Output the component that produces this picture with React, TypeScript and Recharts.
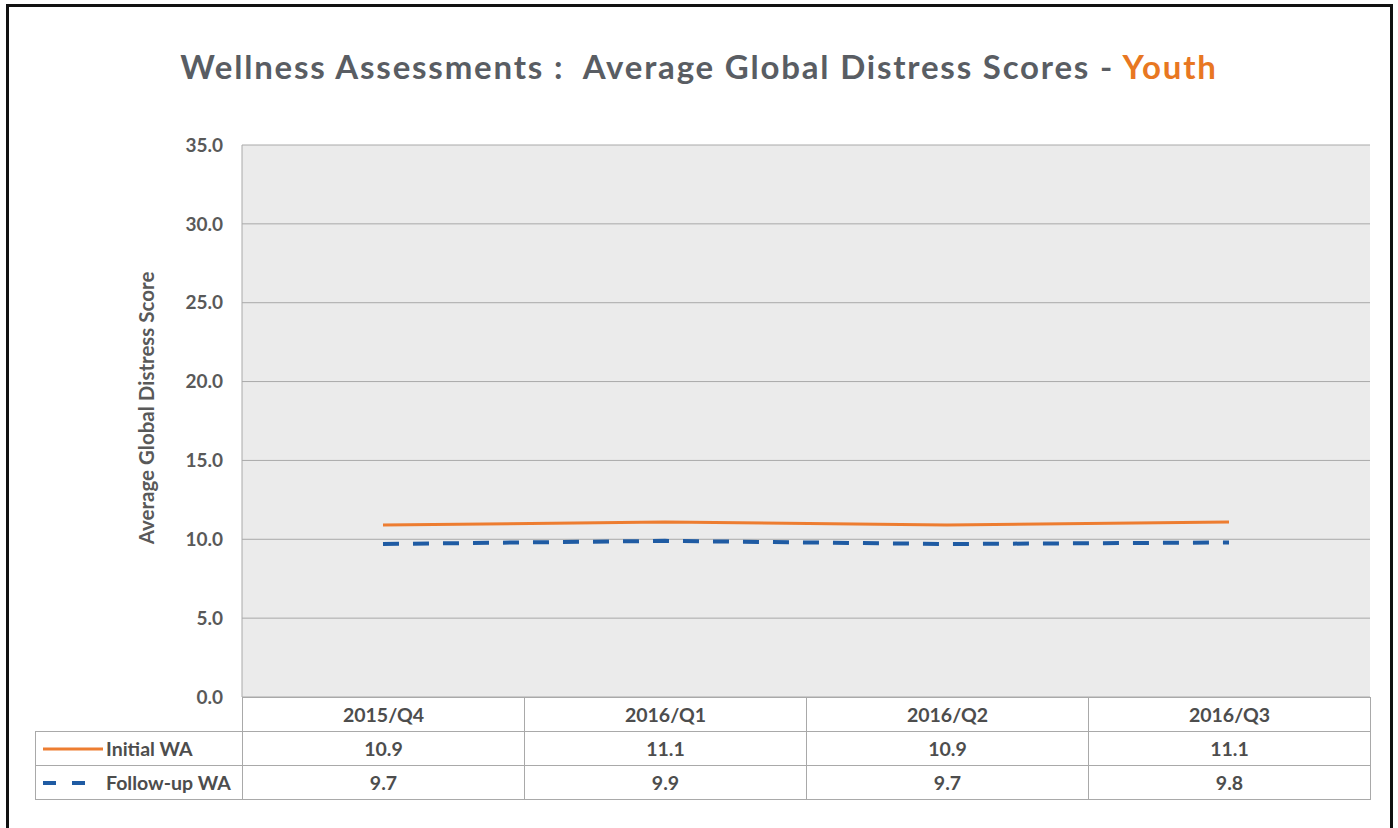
import React from 'react';
import { LineChart, Line, XAxis, YAxis, CartesianGrid } from 'recharts';

const quarters = ['2015/Q4', '2016/Q1', '2016/Q2', '2016/Q3'];
const initialWA = [10.9, 11.1, 10.9, 11.1];
const followUpWA = [9.7, 9.9, 9.7, 9.8];
const yTicks = [0, 5, 10, 15, 20, 25, 30, 35];

const seriesInfo = [
  { key: 'initial', name: 'Initial WA', values: initialWA, color: '#ed7d31', dash: undefined, width: 3 },
  { key: 'followUp', name: 'Follow-up WA', values: followUpWA, color: '#1f5ba3', dash: '16 14', width: 4 },
];

const data = quarters.map((q, i) => ({
  quarter: q,
  initial: initialWA[i],
  followUp: followUpWA[i],
}));

const W = 1398;
const H = 828;
const PLOT_LEFT = 242;
const PLOT_RIGHT = 1370;
const PLOT_TOP = 145;
const PLOT_BOTTOM = 697;
const TABLE_LEFT = 35;
const ROW_H = 34;
const BAND = (PLOT_RIGHT - PLOT_LEFT) / quarters.length;

const FONT = 'Lato, "Open Sans", sans-serif';
const TEXT = '#595959';
const GRID = '#a9a9a9';

const YLabel = ({ viewBox }: any) => {
  const cx = viewBox.x - 16;
  const cy = viewBox.y + viewBox.height / 2 - 13;
  return (
    <text
      x={cx}
      y={cy}
      transform={`rotate(-90, ${cx}, ${cy})`}
      textAnchor="middle"
      dominantBaseline="central"
      fontSize={20.5}
      fontWeight={700}
      fill={TEXT}
      fontFamily={FONT}
    >
      Average Global Distress Score
    </text>
  );
};

const cellStyle: React.CSSProperties = {
  position: 'absolute',
  height: ROW_H,
  lineHeight: `${ROW_H}px`,
  textAlign: 'center',
  fontSize: 19.5,
  fontWeight: 700,
  color: '#4d4d4d',
  boxSizing: 'border-box',
  border: `1px solid ${GRID}`,
  background: '#fff',
};

const LegendKey = ({ color, dash, width }: { color: string; dash?: string; width: number }) => (
  <svg width={60} height={12} style={{ position: 'absolute', left: 7, top: ROW_H / 2 - 6 }}>
    <line x1={0} y1={6} x2={dash ? 46 : 60} y2={6} stroke={color} strokeWidth={width} strokeDasharray={dash ? '13 16' : undefined} />
  </svg>
);

const DataTable = () => (
  <div style={{ position: 'absolute', left: 0, top: 0 }}>
    {quarters.map((q, i) => (
      <div
        key={q}
        style={{
          ...cellStyle,
          left: PLOT_LEFT + i * BAND,
          top: PLOT_BOTTOM,
          width: BAND + 1,
          height: ROW_H + 1,
        }}
      >
        {q}
      </div>
    ))}
    {seriesInfo.map((s, r) => (
      <React.Fragment key={s.key}>
        <div
          style={{
            ...cellStyle,
            left: TABLE_LEFT,
            top: PLOT_BOTTOM + ROW_H * (r + 1),
            width: PLOT_LEFT - TABLE_LEFT + 1,
            height: ROW_H + 1,
            textAlign: 'left',
            paddingLeft: 70,
          }}
        >
          <LegendKey color={s.color} dash={s.dash} width={s.width} />
          {s.name}
        </div>
        {s.values.map((v, i) => (
          <div
            key={i}
            style={{
              ...cellStyle,
              left: PLOT_LEFT + i * BAND,
              top: PLOT_BOTTOM + ROW_H * (r + 1),
              width: BAND + 1,
              height: ROW_H + 1,
            }}
          >
            {v.toFixed(1)}
          </div>
        ))}
      </React.Fragment>
    ))}
  </div>
);

export default function App() {
  return (
    <div style={{ position: 'absolute', left: 0, top: 0, width: W, height: H, background: '#fff', overflow: 'hidden', fontFamily: FONT }}>
      <div
        style={{
          position: 'absolute',
          left: 6,
          top: 4,
          width: 1387,
          height: 900,
          border: '3px solid #111',
          boxSizing: 'border-box',
        }}
      />
      <div
        style={{
          position: 'absolute',
          left: 0,
          width: W,
          top: 46,
          textAlign: 'center',
          fontSize: 33,
          lineHeight: '40px',
          letterSpacing: 1.8,
          fontWeight: 700,
          color: '#595d63',
          whiteSpace: 'pre',
        }}
      >
        {'Wellness Assessments :  Average Global Distress Scores - '}
        <span style={{ color: '#e87722' }}>Youth</span>
      </div>
      <div style={{ position: 'absolute', left: 0, top: 0 }}>
        <LineChart
          width={W}
          height={H}
          data={data}
          margin={{ top: PLOT_TOP, right: W - PLOT_RIGHT, bottom: H - PLOT_BOTTOM - 20, left: PLOT_LEFT - 80 }}
        >
          <CartesianGrid vertical={false} stroke={GRID} fill="#ebebeb" fillOpacity={1} />
          <XAxis dataKey="quarter" scale="band" height={20} tick={false} axisLine={false} tickLine={false} />
          <YAxis
            width={80}
            domain={[0, 35]}
            ticks={yTicks}
            interval={0}
            tickFormatter={(v: number) => v.toFixed(1)}
            tick={{ fontSize: 19, fontWeight: 700, fill: TEXT, fontFamily: FONT }}
            tickLine={false}
            tickMargin={13}
            axisLine={{ stroke: GRID }}
            label={<YLabel />}
          />
          <YAxis yAxisId="right" orientation="right" width={0} tick={false} tickLine={false} axisLine={{ stroke: GRID }} />
          {seriesInfo.map((s) => (
            <Line
              key={s.key}
              type="linear"
              dataKey={s.key}
              name={s.name}
              stroke={s.color}
              strokeWidth={s.width}
              strokeDasharray={s.dash}
              dot={false}
              activeDot={false}
              isAnimationActive={false}
            />
          ))}
        </LineChart>
      </div>
      <DataTable />
    </div>
  );
}
